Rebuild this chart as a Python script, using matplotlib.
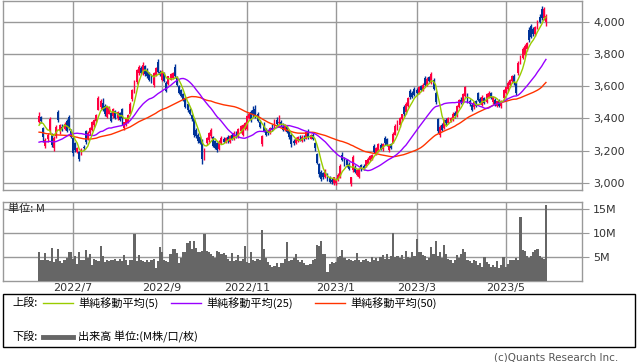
import numpy as np
import pandas as pd
import matplotlib
matplotlib.use("Agg")
import matplotlib.pyplot as plt
from matplotlib.lines import Line2D
from matplotlib.patches import Rectangle

jp = ['Noto Sans CJK JP', 'DejaVu Sans']

# trading-day index of the first session of each labelled month
month_idx = [16, 58, 98, 140, 178, 220]
month_lbl = ['2022/7', '2022/9', '2022/11', '2023/1', '2023/3', '2023/5']

price_ticks = [3000, 3200, 3400, 3600, 3800, 4000]
vol_ticks = [5, 10, 15]

# closes before the visible window (only used to seed the moving averages)
pre_close = [3440, 3455, 3430, 3410, 3425, 3400, 3380, 3395, 3410, 3390,
             3370, 3385, 3360, 3345, 3370, 3390, 3375, 3350, 3335, 3360,
             3340, 3320, 3345, 3330, 3310,
             3290, 3305, 3280, 3300, 3315, 3295, 3310, 3305,
             3250, 3215, 3190, 3160, 3140, 3125, 3150, 3135, 3160, 3185,
             3200, 3225, 3290, 3330, 3365, 3390]

opens = [3378, 3410, 3340, 3230, 3270, 3320, 3300, 3215, 3290, 3440,
         3320, 3350, 3335, 3385, 3408, 3325, 3278, 3245, 3195, 3195,
         3180, 3225, 3320, 3270, 3310, 3330, 3360, 3385, 3455, 3470,
         3495, 3480, 3410, 3430, 3432, 3415, 3445, 3400, 3432, 3460,
         3340, 3360, 3380, 3430, 3520, 3565, 3625, 3680, 3715, 3680,
         3722, 3700, 3680, 3668, 3605, 3670, 3750, 3690, 3640, 3680,
         3620, 3615, 3640, 3650, 3720, 3650, 3600, 3575, 3550, 3525,
         3490, 3455, 3420, 3400, 3330, 3300, 3285, 3262, 3150, 3245,
         3265, 3290, 3285, 3260, 3245, 3210, 3250, 3270, 3250, 3285,
         3255, 3300, 3275, 3300, 3290, 3320, 3300, 3340, 3335, 3405,
         3440, 3450, 3460, 3430, 3380, 3240, 3360, 3330, 3320, 3315,
         3340, 3345, 3390, 3370, 3375, 3350, 3330, 3350, 3320, 3300,
         3260, 3245, 3260, 3275, 3262, 3280, 3275, 3320, 3275, 3300,
         3245, 3180, 3120, 3070, 3060, 3040, 3050, 3035, 3020, 3000,
         3000, 3025, 3040, 3175, 3150, 3140, 3120, 2995, 3080, 3100,
         3050, 3040, 3110, 3105, 3105, 3120, 3140, 3150, 3230, 3180,
         3200, 3235, 3210, 3280, 3270, 3205, 3240, 3250, 3300, 3340,
         3360, 3395, 3470, 3440, 3480, 3570, 3560, 3580, 3575, 3560,
         3600, 3575, 3650, 3610, 3655, 3620, 3640, 3560, 3395, 3300,
         3360, 3340, 3390, 3370, 3385, 3390, 3435, 3420, 3470, 3515,
         3500, 3540, 3545, 3510, 3485, 3470, 3505, 3555, 3520, 3485,
         3525, 3500, 3530, 3555, 3500, 3515, 3480, 3510, 3475, 3525,
         3560, 3580, 3605, 3630, 3660, 3620, 3680, 3745, 3775, 3790,
         3830, 3950, 3970, 3955, 3920, 3965, 4030, 4080, 4020, 4000]

highs = [3440, 3415, 3345, 3280, 3310, 3410, 3310, 3290, 3360, 3450,
         3365, 3365, 3375, 3395, 3420, 3335, 3285, 3255, 3225, 3200,
         3220, 3235, 3330, 3320, 3345, 3385, 3395, 3430, 3540, 3520,
         3525, 3490, 3475, 3480, 3440, 3465, 3450, 3445, 3440, 3465,
         3380, 3405, 3425, 3500, 3585, 3640, 3705, 3730, 3725, 3750,
         3730, 3710, 3690, 3675, 3690, 3720, 3765, 3700, 3700, 3690,
         3630, 3665, 3680, 3690, 3735, 3660, 3610, 3580, 3560, 3535,
         3500, 3465, 3430, 3405, 3340, 3310, 3290, 3270, 3215, 3285,
         3315, 3340, 3290, 3265, 3255, 3265, 3290, 3285, 3285, 3295,
         3300, 3310, 3320, 3325, 3340, 3360, 3365, 3380, 3420, 3440,
         3450, 3475, 3485, 3440, 3390, 3300, 3375, 3340, 3330, 3345,
         3365, 3395, 3410, 3420, 3390, 3370, 3365, 3360, 3330, 3310,
         3275, 3285, 3290, 3295, 3295, 3300, 3325, 3335, 3305, 3310,
         3255, 3185, 3125, 3080, 3070, 3085, 3060, 3045, 3030, 3040,
         3030, 3060, 3115, 3195, 3160, 3150, 3130, 3040, 3175, 3110,
         3085, 3095, 3120, 3115, 3145, 3160, 3175, 3180, 3240, 3225,
         3250, 3245, 3250, 3290, 3280, 3240, 3250, 3315, 3365, 3390,
         3410, 3430, 3485, 3500, 3535, 3580, 3570, 3595, 3590, 3600,
         3610, 3620, 3665, 3655, 3665, 3685, 3650, 3570, 3405, 3360,
         3370, 3395, 3400, 3410, 3410, 3440, 3445, 3485, 3520, 3530,
         3560, 3600, 3555, 3520, 3495, 3510, 3515, 3565, 3530, 3545,
         3535, 3560, 3570, 3565, 3540, 3525, 3510, 3520, 3515, 3585,
         3600, 3630, 3645, 3670, 3672, 3628, 3755, 3795, 3840, 3860,
         3875, 3965, 3985, 3965, 3975, 4010, 4045, 4095, 4090, 4045]

lows = [3370, 3370, 3255, 3215, 3255, 3310, 3225, 3200, 3280, 3380,
        3305, 3320, 3330, 3315, 3330, 3280, 3165, 3195, 3185, 3135,
        3175, 3205, 3240, 3265, 3300, 3320, 3350, 3375, 3450, 3460,
        3445, 3415, 3400, 3425, 3375, 3405, 3395, 3390, 3385, 3360,
        3330, 3355, 3370, 3425, 3510, 3555, 3615, 3670, 3675, 3670,
        3665, 3650, 3630, 3622, 3595, 3660, 3680, 3660, 3630, 3625,
        3565, 3605, 3635, 3645, 3650, 3600, 3550, 3530, 3505, 3465,
        3440, 3420, 3385, 3285, 3280, 3250, 3240, 3120, 3140, 3235,
        3255, 3280, 3225, 3210, 3195, 3205, 3240, 3245, 3245, 3250,
        3250, 3265, 3265, 3280, 3280, 3310, 3290, 3330, 3330, 3395,
        3380, 3410, 3400, 3375, 3340, 3230, 3315, 3290, 3300, 3305,
        3320, 3340, 3355, 3360, 3350, 3320, 3325, 3310, 3275, 3225,
        3235, 3240, 3255, 3260, 3255, 3262, 3270, 3275, 3270, 3265,
        3200, 3115, 3040, 3015, 3025, 3030, 3010, 3000, 2995, 2990,
        2985, 3015, 3030, 3135, 3105, 3100, 3080, 2980, 3070, 3060,
        3045, 3030, 3075, 3080, 3100, 3115, 3135, 3140, 3185, 3175,
        3195, 3205, 3200, 3235, 3230, 3195, 3210, 3245, 3295, 3330,
        3350, 3385, 3415, 3430, 3470, 3520, 3525, 3540, 3545, 3550,
        3570, 3570, 3600, 3600, 3625, 3615, 3575, 3490, 3310, 3285,
        3320, 3335, 3360, 3365, 3375, 3385, 3405, 3410, 3465, 3490,
        3495, 3530, 3495, 3480, 3445, 3460, 3470, 3505, 3490, 3480,
        3490, 3495, 3525, 3520, 3490, 3475, 3470, 3470, 3465, 3515,
        3550, 3570, 3595, 3620, 3610, 3548, 3670, 3735, 3765, 3785,
        3820, 3875, 3895, 3910, 3910, 3955, 3990, 4010, 4010, 3975]

closes = [3415, 3382, 3285, 3265, 3300, 3395, 3235, 3280, 3350, 3390,
          3358, 3330, 3368, 3322, 3342, 3288, 3185, 3205, 3218, 3150,
          3212, 3215, 3255, 3310, 3338, 3375, 3390, 3420, 3528, 3510,
          3452, 3425, 3468, 3470, 3382, 3460, 3402, 3438, 3392, 3400,
          3375, 3400, 3420, 3490, 3575, 3630, 3698, 3720, 3682, 3732,
          3672, 3660, 3640, 3630, 3682, 3712, 3690, 3670, 3692, 3632,
          3572, 3660, 3672, 3682, 3660, 3610, 3560, 3540, 3512, 3470,
          3450, 3428, 3395, 3295, 3290, 3260, 3250, 3150, 3208, 3280,
          3310, 3330, 3232, 3220, 3202, 3255, 3280, 3252, 3278, 3258,
          3292, 3270, 3312, 3290, 3335, 3352, 3358, 3372, 3412, 3430,
          3395, 3420, 3412, 3385, 3350, 3292, 3325, 3300, 3310, 3338,
          3330, 3385, 3365, 3380, 3360, 3330, 3355, 3318, 3285, 3240,
          3250, 3278, 3282, 3265, 3288, 3270, 3315, 3282, 3300, 3272,
          3215, 3125, 3055, 3025, 3035, 3080, 3020, 3008, 3005, 3035,
          3022, 3050, 3105, 3145, 3112, 3110, 3090, 3035, 3160, 3068,
          3078, 3090, 3085, 3095, 3140, 3150, 3168, 3172, 3195, 3215,
          3242, 3212, 3240, 3245, 3238, 3232, 3220, 3305, 3355, 3380,
          3402, 3425, 3425, 3490, 3525, 3530, 3535, 3548, 3555, 3595,
          3578, 3610, 3610, 3645, 3632, 3672, 3585, 3500, 3320, 3350,
          3330, 3385, 3370, 3400, 3402, 3430, 3415, 3478, 3512, 3498,
          3552, 3592, 3502, 3488, 3452, 3500, 3478, 3515, 3498, 3535,
          3498, 3550, 3560, 3528, 3532, 3482, 3505, 3478, 3508, 3575,
          3592, 3620, 3638, 3662, 3620, 3560, 3745, 3785, 3830, 3850,
          3865, 3885, 3905, 3920, 3965, 4005, 4000, 4020, 4080, 4035]

# volume in millions of shares
volume = [5.9, 4.4, 4.4, 5.7, 4.2, 4.0, 6.8, 3.8, 4.5, 6.6,
          4.0, 3.7, 4.2, 4.8, 5.9, 6.0, 4.6, 5.1, 3.4, 5.9,
          4.2, 4.4, 6.4, 4.8, 5.5, 3.3, 4.6, 4.4, 4.1, 7.2,
          5.1, 3.9, 4.3, 4.1, 4.4, 4.2, 4.6, 4.1, 4.6, 4.1,
          5.4, 4.3, 3.3, 4.4, 4.2, 9.7, 4.1, 5.3, 4.2, 4.0,
          3.9, 4.4, 3.8, 4.4, 4.6, 2.6, 4.1, 7.0, 5.9, 4.4,
          4.0, 3.8, 5.5, 6.6, 6.6, 5.7, 3.7, 4.8, 5.9, 5.9,
          7.9, 8.2, 6.6, 8.3, 6.8, 5.9, 6.0, 6.2, 9.7, 6.2,
          6.0, 5.5, 5.2, 4.8, 6.1, 5.9, 5.5, 5.7, 5.3, 4.6,
          4.1, 5.7, 4.1, 4.3, 5.3, 4.1, 4.6, 7.2, 3.8, 3.7,
          5.9, 4.4, 4.1, 4.5, 4.2, 10.6, 6.6, 4.8, 3.9, 3.2,
          2.9, 3.1, 3.7, 2.9, 3.7, 3.7, 4.6, 8.1, 4.0, 4.4,
          4.8, 5.5, 4.2, 3.8, 4.3, 3.7, 3.2, 3.3, 3.5, 4.3,
          4.5, 7.5, 7.3, 8.2, 5.5, 5.5, 1.8, 3.5, 3.9, 3.6,
          3.8, 5.0, 5.2, 6.4, 4.8, 4.3, 4.6, 4.4, 4.0, 4.2,
          5.8, 4.3, 3.8, 4.2, 4.5, 4.0, 3.9, 5.0, 4.3, 4.8,
          4.0, 5.0, 5.3, 4.5, 5.6, 4.6, 5.2, 9.9, 4.9, 5.1,
          4.8, 5.4, 4.6, 6.2, 5.0, 4.7, 6.0, 5.2, 8.8, 6.0,
          5.9, 5.3, 5.2, 4.4, 4.8, 7.0, 5.5, 8.2, 5.1, 5.9,
          4.7, 7.5, 5.5, 4.6, 4.4, 3.7, 4.3, 5.3, 4.8, 5.5,
          6.7, 5.9, 4.4, 4.0, 3.7, 4.3, 4.0, 3.3, 3.6, 2.9,
          5.0, 3.8, 3.5, 2.9, 3.3, 2.9, 4.0, 2.6, 3.3, 5.0,
          2.9, 3.5, 4.2, 4.2, 4.2, 4.8, 4.2, 13.4, 6.5, 6.2,
          5.1, 4.8, 5.2, 5.9, 6.4, 6.6, 5.1, 4.8, 4.6, 15.9]

RED = '#ff0040'
BLUE = '#003399'
GRID = '#999999'

W, H = 638, 362


def box(x0, y0, x1, y1):
    return [x0 / W, 1 - y1 / H, (x1 - x0) / W, (y1 - y0) / H]


def fx(x):
    return x / W


def fy(y):
    return 1 - y / H


fig = plt.figure(figsize=(W / 100, H / 100), dpi=100)
ax = fig.add_axes(box(3, 0.5, 582, 190))
axv = fig.add_axes(box(3, 202, 582, 280.5))

idx = np.arange(len(closes))
o = np.array(opens, dtype=float)
c = np.array(closes, dtype=float)
hi = np.array(highs, dtype=float)
lo = np.array(lows, dtype=float)
col = np.where(c >= o, RED, BLUE)

# candles
ax.vlines(idx, lo, hi, colors=col, lw=1.0, zorder=3)
ax.bar(idx, np.maximum(np.abs(c - o), 5), bottom=np.minimum(o, c),
       width=0.9, color=col, lw=0, zorder=3)

# simple moving averages
all_close = pd.Series(pre_close + closes, dtype=float)
n0 = len(pre_close)
for n, colr in ((50, '#ff3300'), (25, '#9900ff'), (5, '#99cc00')):
    ma = all_close.rolling(n).mean().to_numpy()[n0:]
    ax.plot(idx, ma, color=colr, lw=1, zorder=4)

# volume
axv.bar(idx, volume, width=1.0, color='#666666', lw=0, zorder=3)

for a in (ax, axv):
    a.set_xlim(-17, 256)
    a.set_xticks(month_idx)
    a.grid(True, color=GRID, lw=1)
    a.set_axisbelow(True)
    a.yaxis.tick_right()
    a.tick_params(axis='y', length=5, color=GRID, labelsize=8, pad=3,
                  labelcolor='#333333')
    for s in a.spines.values():
        s.set_color(GRID)
        s.set_linewidth(1)

ax.set_ylim(2957, 4130)
ax.set_yticks(price_ticks)
ax.set_yticklabels([f'{v:,}' for v in price_ticks])
ax.tick_params(axis='x', length=0, labelbottom=False)

axv.set_ylim(0, 16.46)
axv.set_yticks(vol_ticks)
axv.set_yticklabels([f'{v}M' for v in vol_ticks])
axv.set_xticklabels(month_lbl)
axv.tick_params(axis='x', length=0, labelsize=8, pad=2, labelcolor='#333333')

fig.text(fx(8), fy(209), '単位: M', fontsize=8, va='center', family=jp,
         color='#222222')

# legend box
fig.add_artist(Rectangle((fx(3), fy(347)), fx(635) - fx(3), fy(294) - fy(347),
                         transform=fig.transFigure, fill=False,
                         edgecolor='black', lw=1))
ly1, ly2 = 303, 337
fig.text(fx(12), fy(ly1), '上段:', fontsize=8, va='center', family=jp)
items = [(43, '#99cc00', '単純移動平均(5)'),
         (171, '#9900ff', '単純移動平均(25)'),
         (315, '#ff3300', '単純移動平均(50)')]
for x0, colr, lbl in items:
    fig.add_artist(Line2D([fx(x0), fx(x0 + 30)], [fy(ly1)] * 2,
                          color=colr, lw=1, transform=fig.transFigure))
    fig.text(fx(x0 + 35), fy(ly1), lbl, fontsize=8, va='center', family=jp)

fig.text(fx(12), fy(ly2), '下段:', fontsize=8, va='center', family=jp)
fig.add_artist(Line2D([fx(43), fx(73)], [fy(ly2)] * 2, color='#666666',
                      lw=3.5, transform=fig.transFigure))
fig.text(fx(78), fy(ly2), '出来高 単位:(M株/口/枚)', fontsize=8, va='center',
         family=jp)

fig.text(fx(618), fy(357), '(c)Quants Research Inc.', fontsize=7.5,
         ha='right', va='center', color='#555555')

fig.savefig('out.png', dpi=100)
